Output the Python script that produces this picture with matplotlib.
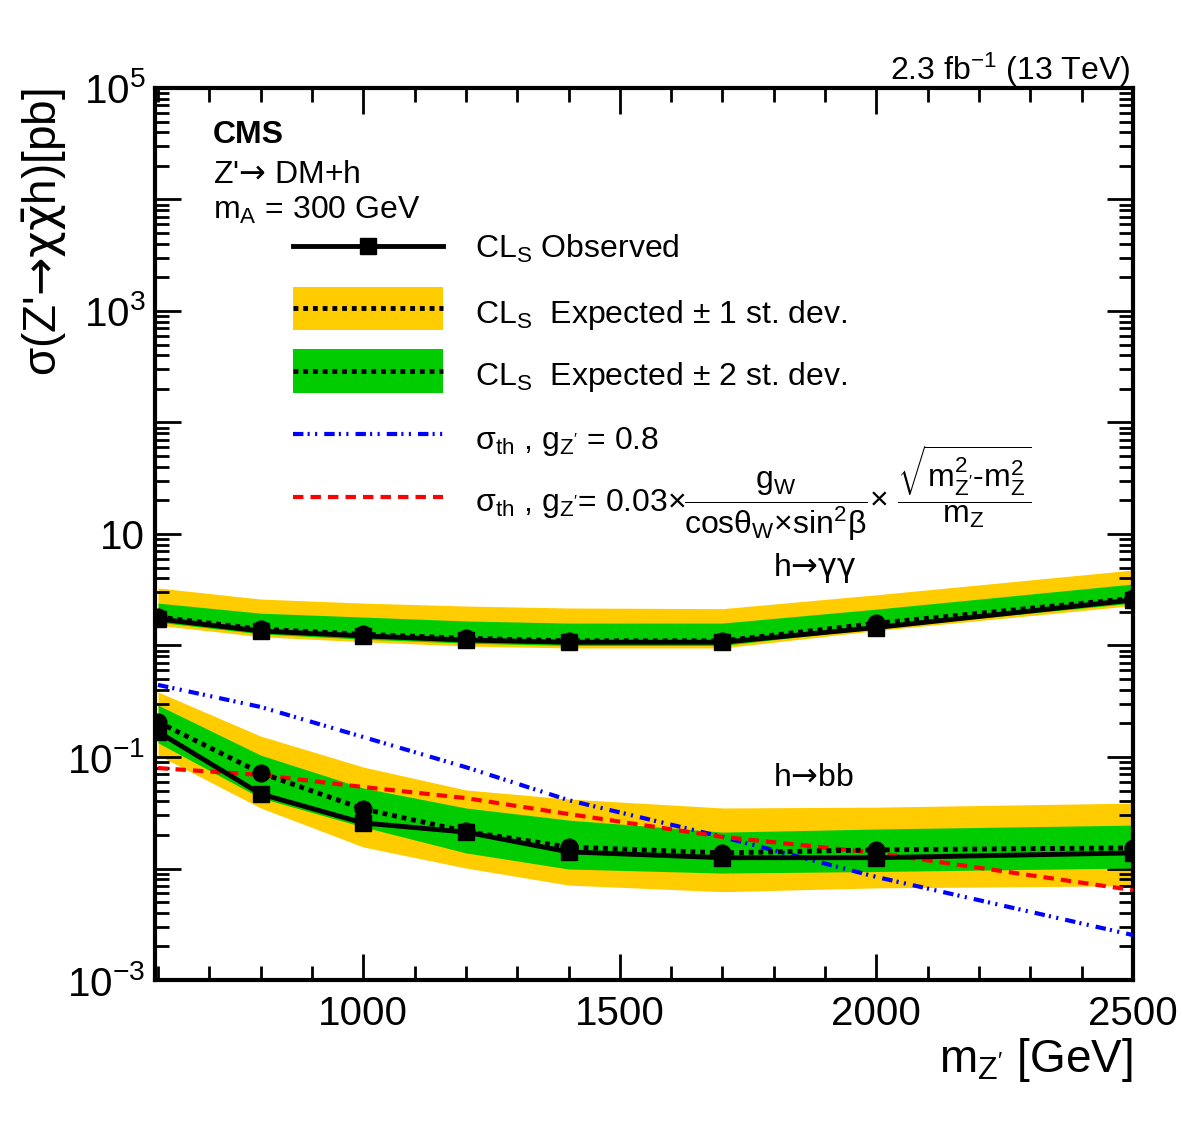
import matplotlib
matplotlib.use("Agg")
import matplotlib.pyplot as plt
from matplotlib.lines import Line2D
from matplotlib.patches import Rectangle
from matplotlib.ticker import FixedLocator, FixedFormatter, LogLocator, MultipleLocator, NullFormatter

plt.rcParams['font.family'] = ['Liberation Sans', 'DejaVu Sans']
plt.rcParams['mathtext.fontset'] = 'custom'
plt.rcParams['mathtext.rm'] = 'Liberation Sans'
plt.rcParams['mathtext.it'] = 'Liberation Sans:italic'
plt.rcParams['mathtext.bf'] = 'Liberation Sans:bold'
plt.rcParams['mathtext.sf'] = 'DejaVu Sans'
plt.rcParams['mathtext.default'] = 'regular'

# Z' mass points [GeV]
mass = [600, 800, 1000, 1200, 1400, 1700, 2000, 2500]

# h -> gamma gamma limits [pb]
gg_obs = [1.73, 1.35, 1.22, 1.12, 1.07, 1.07, 1.45, 2.56]
gg_exp = [1.80, 1.40, 1.26, 1.16, 1.10, 1.10, 1.58, 2.65]
gg_yel_hi = [3.28, 2.61, 2.40, 2.26, 2.17, 2.14, 2.85, 4.75]
gg_grn_hi = [2.40, 1.95, 1.80, 1.66, 1.59, 1.59, 2.12, 3.56]
gg_grn_lo = [1.62, 1.27, 1.14, 1.05, 1.00, 1.00, 1.43, 2.40]
gg_yel_lo = [1.52, 1.20, 1.08, 0.99, 0.95, 0.95, 1.36, 2.28]

# h -> bb limits [pb]
bb_obs = [0.168, 0.0466, 0.0256, 0.0212, 0.0141, 0.0125, 0.0125, 0.0138]
bb_exp = [0.206, 0.072, 0.0342, 0.0215, 0.0156, 0.0138, 0.0147, 0.0153]
bb_yel_hi = [0.383, 0.154, 0.0813, 0.0506, 0.042, 0.0349, 0.0355, 0.0386]
bb_grn_hi = [0.292, 0.104, 0.0527, 0.0349, 0.0272, 0.0212, 0.0226, 0.0245]
bb_grn_lo = [0.134, 0.0429, 0.0236, 0.0138, 0.0099, 0.0091, 0.0094, 0.0101]
bb_yel_lo = [0.104, 0.0349, 0.0156, 0.0101, 0.0071, 0.0062, 0.0067, 0.0070]

# theory cross sections [pb]
th_g08 = [0.443, 0.281, 0.151, 0.081, 0.041, 0.0192, 0.0084, 0.00253]
th_gw = [0.0796, 0.069, 0.0538, 0.0428, 0.0308, 0.0192, 0.0138, 0.0064]

YELLOW = '#ffcc00'
GREEN = '#00cc00'
DOT = (0, (1, 1))
DASHDOT = (0, (2.5, 1, 0.5, 1.3, 0.5, 1.7))
DASH = (0, (2.5, 1.7))
ARROW = "$\\mathsf{\u2192}$"

fig = plt.figure(figsize=(11.82, 11.28), dpi=100)
ax = fig.add_axes([0.1311, 0.1312, 0.8274, 0.7908])

for lo_y, lo_g, hi_g, hi_y, exp, obs in [
        (gg_yel_lo, gg_grn_lo, gg_grn_hi, gg_yel_hi, gg_exp, gg_obs),
        (bb_yel_lo, bb_grn_lo, bb_grn_hi, bb_yel_hi, bb_exp, bb_obs)]:
    ax.fill_between(mass, lo_y, hi_y, color=YELLOW, lw=0, zorder=1)
    ax.fill_between(mass, lo_g, hi_g, color=GREEN, lw=0, zorder=2)
    ax.plot(mass, exp, color='k', lw=3.5, ls=DOT, dash_capstyle='butt',
            marker='o', ms=12, zorder=5)
    ax.plot(mass, obs, color='k', lw=3.5, marker='s', ms=11, zorder=6)

ax.plot(mass, th_g08, color='#0000ff', lw=3, ls=DASHDOT, dash_capstyle='butt', zorder=3)
ax.plot(mass, th_gw, color='#ff0000', lw=3, ls=DASH, dash_capstyle='butt', zorder=3)

ax.set_xlim(594, 2500)
ax.set_yscale('log')
ax.set_ylim(1e-3, 1e5)
ax.xaxis.set_major_locator(MultipleLocator(500))
ax.xaxis.set_minor_locator(MultipleLocator(100))
ax.yaxis.set_major_locator(FixedLocator([10.0 ** k for k in range(-3, 6)]))
ax.yaxis.set_major_formatter(FixedFormatter(
    ['10$^{-3}$', '', '10$^{-1}$', '', '10', '', '10$^{3}$', '', '10$^{5}$']))
ax.yaxis.set_minor_locator(LogLocator(base=10, subs=range(2, 10), numticks=50))
ax.yaxis.set_minor_formatter(NullFormatter())
ax.tick_params(which='both', direction='in', top=True, right=True, width=2, labelsize=29)
ax.tick_params(which='major', length=19)
ax.tick_params(which='minor', length=10)
ax.tick_params(axis='x', pad=11)
ax.tick_params(axis='y', pad=7)
for s in ax.spines.values():
    s.set_linewidth(3)

ax.text(-0.1125, 1.0, "σ(Z'$\\mathsf{\u2192\\chi\\bar{\\chi}}$h)[pb]", transform=ax.transAxes,
        rotation=90, ha='center', va='top', fontsize=33)
ax.text(1.0, -0.103, "m$_{Z'}$ [GeV]", transform=ax.transAxes,
        ha='right', va='baseline', fontsize=33)

ax.text(0.997, 1.009, "2.3 fb$^{-1}$ (13 TeV)", transform=ax.transAxes,
        ha='right', va='baseline', fontsize=23)
ax.text(0.0593, 0.938, "CMS", transform=ax.transAxes, fontsize=23,
        fontweight='bold', va='baseline')
ax.text(0.0593, 0.8935, "Z'" + ARROW + " DM+h", transform=ax.transAxes, fontsize=23, va='baseline')
ax.text(0.0593, 0.853, "m$_A$ = 300 GeV", transform=ax.transAxes, fontsize=23, va='baseline')
ax.text(0.632, 0.453, "h$\\mathsf{\u2192\\gamma\\gamma}$", transform=ax.transAxes,
        fontsize=23, va='baseline')
ax.text(0.632, 0.2175, "h" + ARROW + "bb", transform=ax.transAxes, fontsize=23, va='baseline')

# legend drawn by hand
x0, x1, xt = 0.1411, 0.2945, 0.3272
tr = ax.transAxes
ax.add_line(Line2D([x0, x1], [0.8229, 0.8229], transform=tr, color='k', lw=3.5))
ax.add_line(Line2D([(x0 + x1) / 2], [0.8229], transform=tr, color='k',
                   marker='s', ms=11, ls='none'))
for (ylo, yhi, ymid, col) in [(0.7287, 0.7769, 0.7534, YELLOW), (0.6581, 0.7074, 0.6827, GREEN)]:
    ax.add_patch(Rectangle((x0, ylo), x1 - x0, yhi - ylo, transform=tr, color=col, lw=0))
    ax.add_line(Line2D([x0, x1], [ymid, ymid], transform=tr, color='k', lw=3.5,
                       ls=DOT, dash_capstyle='butt'))
ax.add_line(Line2D([x0, x1], [0.6121, 0.6121], transform=tr, color='#0000ff', lw=3,
                   ls=DASHDOT, dash_capstyle='butt'))
ax.add_line(Line2D([x0, x1], [0.5415, 0.5415], transform=tr, color='#ff0000', lw=3,
                   ls=DASH, dash_capstyle='butt'))

leg_labels = [
    "CL$_S$ Observed",
    "CL$_S$  Expected $\\pm$ 1 st. dev.",
    "CL$_S$  Expected $\\pm$ 2 st. dev.",
    "σ$_{th}$ , g$_{Z'}$ = 0.8",
    "σ$_{th}$ , g$_{Z'}$= 0.03×",
]
leg_y = [0.8094, 0.7366, 0.6670, 0.5953, 0.5258]
for lab, y in zip(leg_labels, leg_y):
    ax.text(xt, y, lab, transform=tr, fontsize=23, va='baseline')
ax.text(0.541, 0.5258,
        r"$\dfrac{g_W}{cos\theta_W×sin^2\beta}$× $\dfrac{\sqrt{m^2_{Z'}\text{-}m^2_Z}}{m_Z}$",
        transform=tr, fontsize=23, va='baseline')

fig.savefig('out.png', dpi=100)
